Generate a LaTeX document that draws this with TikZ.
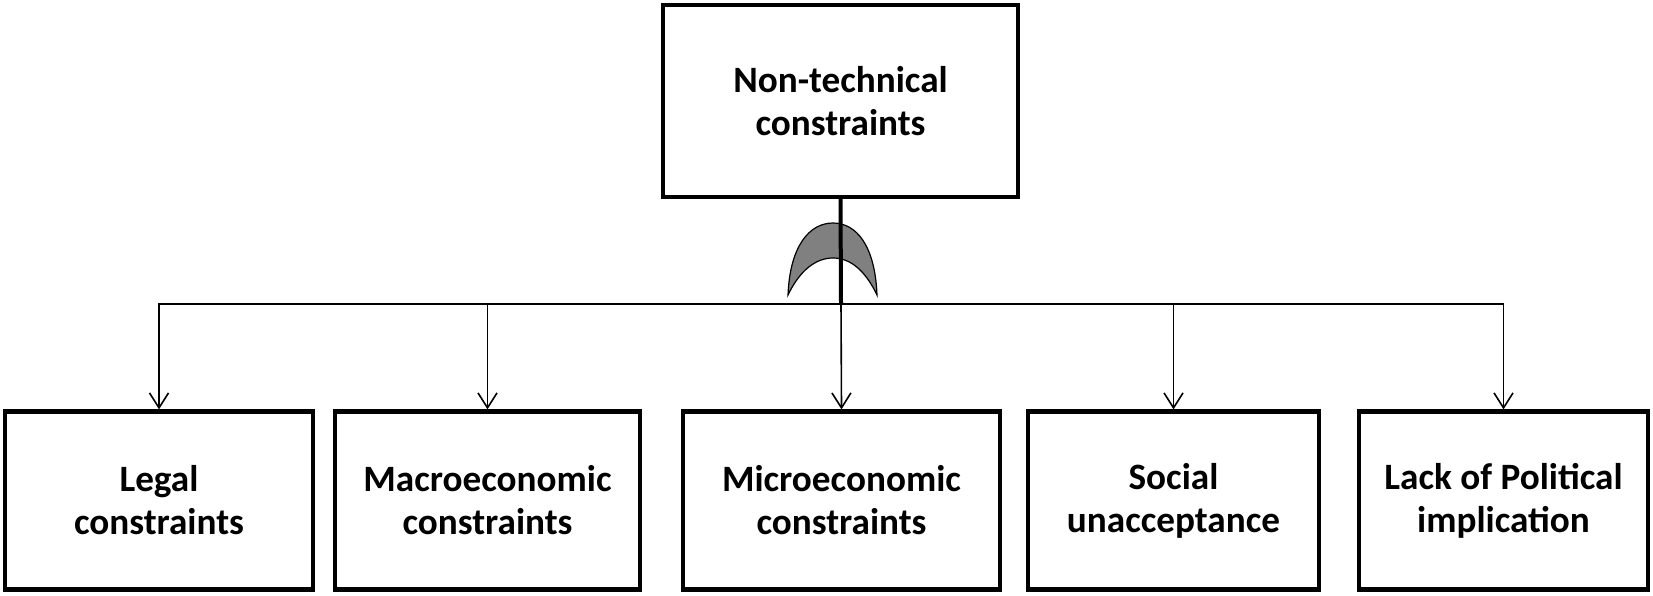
\documentclass[tikz,border=0pt]{standalone}
\usepackage{fontspec}
\setmainfont{Carlito}
\usetikzlibrary{arrows.meta}
\begin{document}
\begin{tikzpicture}[x=0.5pt,y=-0.5pt,
  box/.style={draw,line width=2.1pt,minimum height=89pt,align=center,inner sep=0pt,
    font=\fontsize{18.6}{21.5}\selectfont\bfseries},
  conn/.style={line width=0.8pt},
  arr/.style={conn,-{Straight Barb[length=7.5pt,width=9.5pt,line width=0.8pt]}}]
\useasboundingbox (0,0) rectangle (1653,595);
\node[box,minimum width=177.5pt,minimum height=96pt] (top) at (840.5,101) {Non-technical\\constraints};
\node[box,minimum width=154pt] (legal) at (159,500.5) {Legal\\constraints};
\node[box,minimum width=152.5pt] (macro) at (487.5,500.5) {Macroeconomic\\constraints};
\node[box,minimum width=158.5pt] (micro) at (841.5,500.5) {Microeconomic\\constraints};
\node[box,minimum width=145.5pt] (social) at (1173.5,500.5) {Social\\unacceptance};
\node[box,minimum width=144.5pt] (lack) at (1503.5,500.5) {Lack of Political\\implication};
\coordinate (j) at (841,304);
% OR gate
\filldraw[fill=black!50,draw=black,line width=0.6pt]
  (788,295) .. controls (790,245) and (810,223) .. (833,223)
  .. controls (856,223) and (875,245) .. (877,295)
  .. controls (865,270) and (850,258) .. (833,258)
  .. controls (816,258) and (800,270) .. (788,295) -- cycle;
\draw[line width=2pt] (top.south) -- (j);
\draw[arr] (j) -| (legal.north);
\draw[arr] (j) -| (macro.north);
\draw[arr] (j) -- (micro.north);
\draw[arr] (j) -| (social.north);
\draw[arr] (j) -| (lack.north);
\end{tikzpicture}
\end{document}
